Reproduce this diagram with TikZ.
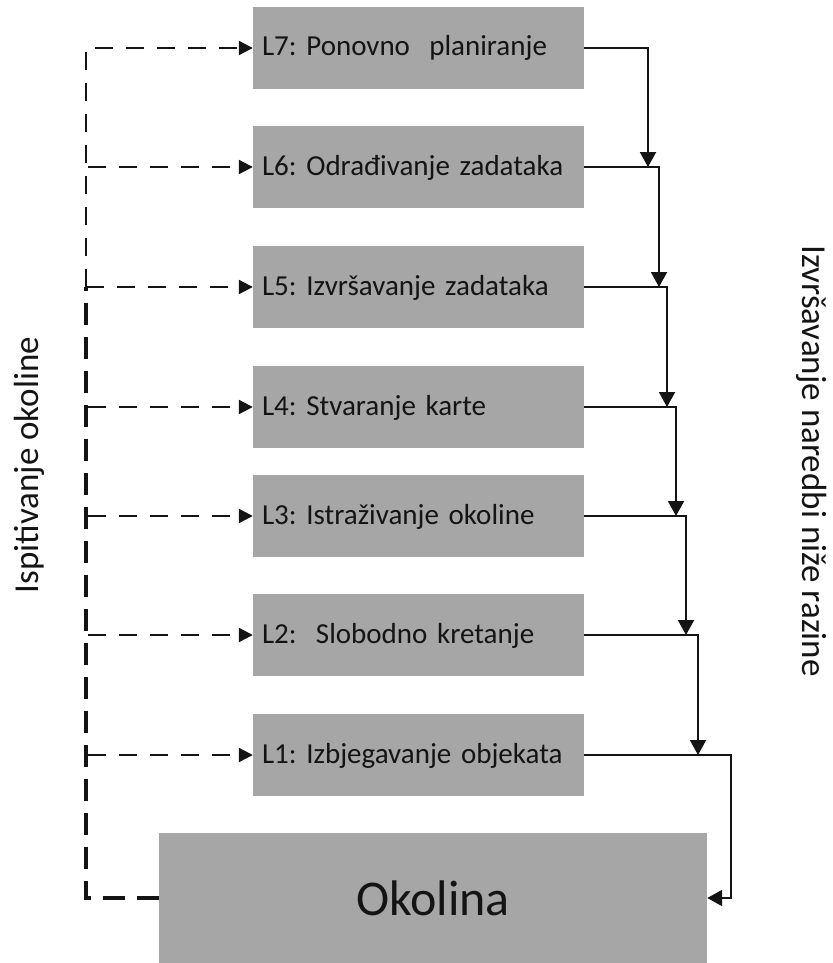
\documentclass[tikz,border=0pt]{standalone}
\usepackage{fontspec}
\setmainfont{Carlito}
\usetikzlibrary{arrows.meta}
\definecolor{boxgray}{RGB}{166,166,166}
\definecolor{ink}{RGB}{20,20,20}
\frenchspacing
\begin{document}
\begin{tikzpicture}[x=1pt,y=-1pt,
  box/.style={fill=boxgray, draw=none, minimum width=331pt, minimum height=82pt,
    text width=313pt, align=left, inner xsep=9pt, inner ysep=0pt,
    text height=21pt, text depth=5pt, text=ink, font=\fontsize{29}{34}\selectfont},
  envbox/.style={fill=boxgray, draw=none, minimum width=548pt, minimum height=130pt,
    inner sep=0pt, text=ink, font=\fontsize{50}{60}\selectfont},
  conn/.style={draw=ink, line width=2pt, -{Triangle[length=15pt,width=16pt]}},
  fb/.style={draw=ink, line width=2.2pt, dash pattern=on 18pt off 13pt,
    -{Triangle[length=14pt,width=14pt]}},
  fbthick/.style={draw=ink, line width=3.5pt, dash pattern=on 22pt off 12pt},
  sidelabel/.style={anchor=base, text=ink, font=\fontsize{35}{42}\selectfont}]
\useasboundingbox (0,0) rectangle (832,963);

% boxes
\node[box] (L7) at (418.5,48)  {L7: Ponovno\ \ planiranje};
\node[box] (L6) at (418.5,167) {L6: Odrađivanje zadataka};
\node[box] (L5) at (418.5,287) {L5: Izvršavanje zadataka};
\node[box] (L4) at (418.5,407) {L4: Stvaranje karte};
\node[box] (L3) at (418.5,516) {L3: Istraživanje okoline};
\node[box] (L2) at (418.5,635) {L2:\ \ Slobodno kretanje};
\node[box] (L1) at (418.5,755) {L1: Izbjegavanje objekata};
\node[envbox] (env) at (433,898) {Okolina};

% side labels
\node[sidelabel, rotate=90] (lt) at (38,465) {Ispitivanje okoline};
\node[sidelabel, rotate=-90] (rt) at (802,461) {Izvršavanje naredbi niže razine};

% right-hand command chain
\coordinate (j6) at (648,167);
\coordinate (j5) at (659,287);
\coordinate (j4) at (667,407);
\coordinate (j3) at (676,516);
\coordinate (j2) at (686,635);
\coordinate (j1) at (698,755);
\coordinate (r1) at (731,755);
\draw[conn] (L7.east) -| (j6);
\draw[conn] (L6.east) -| (j5);
\draw[conn] (L5.east) -| (j4);
\draw[conn] (L4.east) -| (j3);
\draw[conn] (L3.east) -| (j2);
\draw[conn] (L2.east) -| (j1);
\draw[conn] (L1.east) -- (r1) |- (env.east);

% left-hand sensing feedback
\coordinate (v5) at (86,287);
\coordinate (v6) at (88,167);
\coordinate (v4) at (88,407);
\coordinate (v3) at (88,516);
\coordinate (v2) at (88,635);
\coordinate (v1) at (88,755);
\draw[fbthick] (env.west) -| (v5);
\draw[fb] (v5) |- (L7.west);
\draw[fb] (v6) -- (L6.west);
\draw[fb] (v5) -- (L5.west);
\draw[fb] (v4) -- (L4.west);
\draw[fb] (v3) -- (L3.west);
\draw[fb] (v2) -- (L2.west);
\draw[fb] (v1) -- (L1.west);
\end{tikzpicture}
\end{document}
